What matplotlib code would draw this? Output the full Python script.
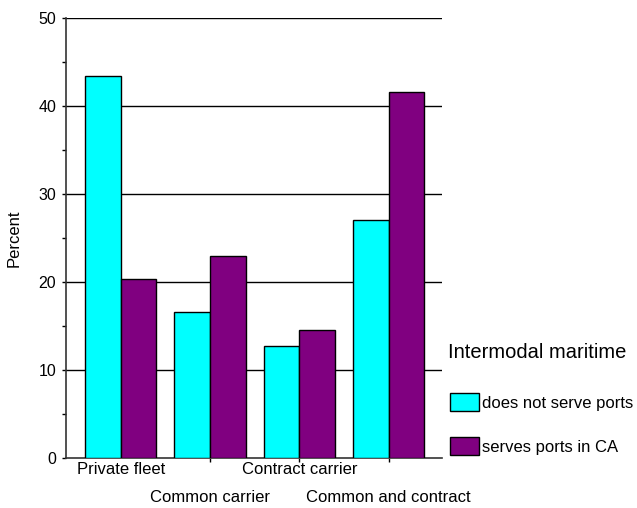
import matplotlib
matplotlib.use("Agg")
import matplotlib.pyplot as plt
from matplotlib.patches import Patch
import numpy as np

categories = ["Private fleet", "Common carrier", "Contract carrier", "Common and contract"]
not_serve = [43.4, 16.6, 12.7, 27.0]
serves_ca = [20.3, 23.0, 14.6, 41.6]
series_names = ["does not serve ports", "serves ports in CA"]
legend_title = "Intermodal maritime"
y_ticks = [0, 10, 20, 30, 40, 50]

plt.rcParams['font.family'] = ['Liberation Sans', 'DejaVu Sans']
fig = plt.figure(figsize=(6.37, 5.08), dpi=100)
ax = fig.add_axes([66/637, 50/508, 376/637, 440/508])

cyan = "#00FFFF"
purple = "#800080"
x = np.arange(len(categories))
w = 0.4
ax.bar(x - w/2, not_serve, width=w, color=cyan, edgecolor="black", linewidth=1, zorder=3)
ax.bar(x + w/2, serves_ca, width=w, color=purple, edgecolor="black", linewidth=1, zorder=3)

ax.set_xlim(-0.613, 3.598)
ax.set_ylim(0, 50)
for yv in y_ticks[1:]:
    ax.axhline(yv, color="black", linewidth=1, zorder=1)

for s in ["top", "right"]:
    ax.spines[s].set_visible(False)
ax.spines["left"].set_linewidth(1.2)
ax.spines["bottom"].set_linewidth(1.2)
ax.spines["left"].set_color("#333333")
ax.spines["bottom"].set_color("#333333")

ax.set_yticks(y_ticks)
ax.set_yticks(np.arange(5, 50, 10), minor=True)
ax.tick_params(axis="y", which="both", direction="out", length=3, width=1, labelsize=11.5, pad=4)
ax.set_xticks([1, 2, 3])
ax.set_xticklabels([])
ax.tick_params(axis="x", direction="out", length=3, width=1)

for i, c in enumerate(categories):
    off = -12 if i % 2 == 0 else -40
    ax.annotate(c, xy=(x[i], 0), xycoords=("data", "axes fraction"),
                xytext=(0, off), textcoords="offset pixels",
                ha="center", va="center", fontsize=12)

ax.set_ylabel("Percent", fontsize=12, labelpad=12)

fig.text(448/637, 1 - 353/508, legend_title, fontsize=14.5, ha="left", va="center")
handles = [Patch(facecolor=cyan, edgecolor="black"), Patch(facecolor=purple, edgecolor="black")]
fig.legend(handles, series_names, loc="upper left", bbox_to_anchor=(450/637, 1 - 393/508),
           frameon=False, fontsize=12, handlelength=1.74, handleheight=1.3,
           handletextpad=0.2, labelspacing=1.55, borderaxespad=0, borderpad=0)

fig.savefig("out.png", dpi=100)
